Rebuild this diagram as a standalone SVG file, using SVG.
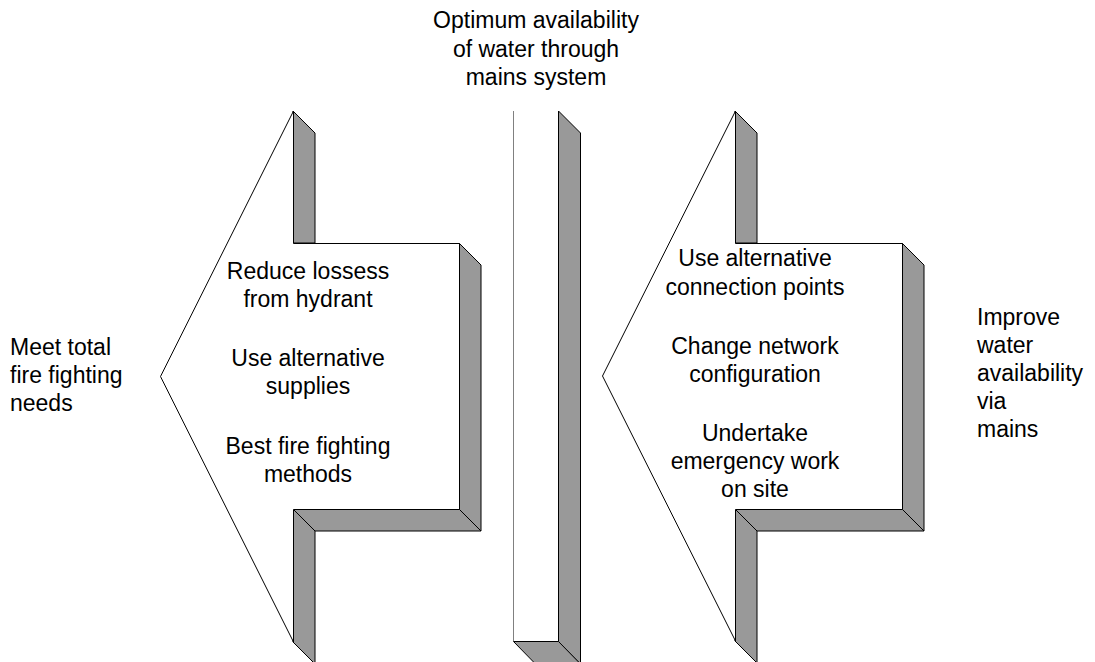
<svg xmlns="http://www.w3.org/2000/svg" width="1095" height="662" viewBox="0 0 1095 662">
<style>
.front{fill:#ffffff;stroke:#000000;stroke-width:1;stroke-linejoin:miter}
.side{fill:#999999;stroke:#000000;stroke-width:1;stroke-linejoin:miter}
.t{font-family:"Liberation Sans",Arial,sans-serif;font-size:23px;fill:#000000}
.c{text-anchor:middle}
</style>
<rect x="0" y="0" width="1095" height="662" fill="#ffffff"/>
<g id="connectors"/>
<g id="left-arrow">
  <polygon class="side" points="293,111 315,133 315,243 293,243"/>
  <polygon class="side" points="459,243 481,265 481,531 459,509"/>
  <polygon class="side" points="293,509 459,509 481,531 315,531"/>
  <polygon class="side" points="293,509 315,531 315,664 293,642"/>
  <polygon class="front" points="160.5,376.5 293.5,111 293.5,243.5 459.5,243.5 459.5,509.5 293.5,509.5 293.5,642"/>
  <text class="t c" x="308" y="279">Reduce lossess</text>
  <text class="t c" x="308" y="307">from hydrant</text>
  <text class="t c" x="308" y="366">Use alternative</text>
  <text class="t c" x="308" y="394">supplies</text>
  <text class="t c" x="308" y="454">Best fire fighting</text>
  <text class="t c" x="308" y="482">methods</text>
</g>
<g id="mains-bar">
  <polygon class="side" points="558.5,111 580.5,133 580.5,664 558.5,642"/>
  <polygon class="side" points="513.5,641.5 558.5,641.5 580.5,664 535.5,664"/>
  <rect x="513.5" y="111" width="45" height="530.5" fill="#ffffff" stroke="none"/>
  <line x1="513.5" y1="111" x2="513.5" y2="641.5" stroke="#808080" stroke-width="1"/>
  <line x1="558.5" y1="111" x2="558.5" y2="641.5" stroke="#000000" stroke-width="1"/>
  <line x1="513.5" y1="641.5" x2="558.5" y2="641.5" stroke="#000000" stroke-width="1"/>
  <text class="t c" x="536" y="28">Optimum availability</text>
  <text class="t c" x="536" y="57">of water through</text>
  <text class="t c" x="536" y="85">mains system</text>
</g>
<g id="right-arrow">
  <polygon class="side" points="735,111 757,133 757,243 735,243"/>
  <polygon class="side" points="902,243 924,265 924,531 902,509"/>
  <polygon class="side" points="735,509 902,509 924,531 757,531"/>
  <polygon class="side" points="735,509 757,531 757,663 735,641"/>
  <polygon class="front" points="602.5,376 735.5,111 735.5,243.5 902.5,243.5 902.5,509.5 735.5,509.5 735.5,641"/>
  <text class="t c" x="755" y="266">Use alternative</text>
  <text class="t c" x="755" y="295">connection points</text>
  <text class="t c" x="755" y="354">Change network</text>
  <text class="t c" x="755" y="382">configuration</text>
  <text class="t c" x="755" y="441">Undertake</text>
  <text class="t c" x="755" y="469">emergency work</text>
  <text class="t c" x="755" y="497">on site</text>
</g>
<g id="label-left">
  <text class="t" x="10" y="355">Meet total</text>
  <text class="t" x="10" y="383">fire fighting</text>
  <text class="t" x="10" y="411">needs</text>
</g>
<g id="label-right">
  <text class="t" x="977" y="325">Improve</text>
  <text class="t" x="977" y="353">water</text>
  <text class="t" x="977" y="381">availability</text>
  <text class="t" x="977" y="409">via</text>
  <text class="t" x="977" y="437">mains</text>
</g>
</svg>
